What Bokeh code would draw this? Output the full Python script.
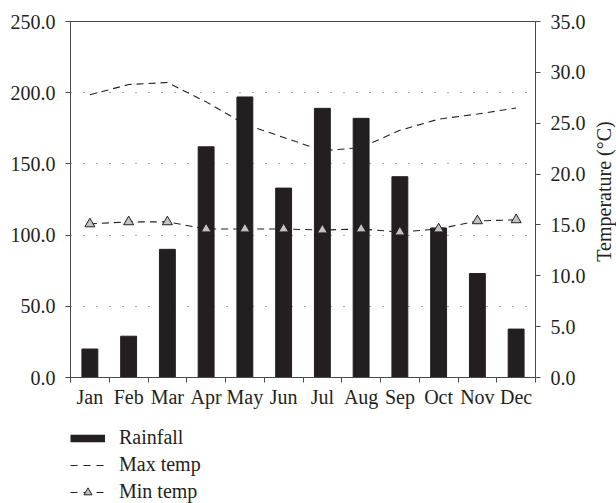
import math
from bokeh.plotting import figure
from bokeh.layouts import column, row
from bokeh.models import (Range1d, LinearAxis, FixedTicker, NumeralTickFormatter,
                          Legend, LegendItem, Label)
from bokeh.embed import file_html
from bokeh.resources import INLINE

months = ["Jan", "Feb", "Mar", "Apr", "May", "Jun", "Jul", "Aug", "Sep", "Oct", "Nov", "Dec"]
rainfall = [20, 29, 90, 162, 197, 133, 189, 182, 141, 105, 73, 34]
max_temp = [27.8, 28.8, 29.0, 27.1, 24.9, 23.6, 22.3, 22.6, 24.3, 25.4, 25.9, 26.5]
min_temp = [15.1, 15.3, 15.3, 14.6, 14.6, 14.6, 14.5, 14.6, 14.3, 14.6, 15.4, 15.5]
rain_ticks = [0, 50, 100, 150, 200, 250]
temp_ticks = [0, 5, 10, 15, 20, 25, 30, 35]

DARK = "#231f20"
AXIS = "#4a4a4a"
TRI = "#c2c2c2"
FONT = "Liberation Serif"
FS = "20px"

xc = [i + 0.5 for i in range(len(months))]
bounds = list(range(len(months) + 1))

p = figure(width=590, height=415, x_range=Range1d(0, len(months)), y_range=Range1d(0, 250),
           output_backend="svg", toolbar_location=None,
           min_border_left=70, min_border_right=55, min_border_top=21, min_border_bottom=38)
p.extra_y_ranges = {"temp": Range1d(0, 35)}
p.outline_line_color = AXIS
p.background_fill_color = "white"
p.border_fill_color = "white"

def style_axis(ax):
    ax.axis_line_color = AXIS
    ax.major_tick_line_color = AXIS
    ax.minor_tick_line_color = None
    ax.major_tick_out = 5
    ax.major_tick_in = 0
    ax.major_label_text_font = FONT
    ax.major_label_text_font_size = FS
    ax.major_label_text_color = DARK

# left axis (rainfall)
ly = p.yaxis[0]
ly.ticker = FixedTicker(ticks=rain_ticks)
ly.formatter = NumeralTickFormatter(format="0.0")
style_axis(ly)
ly.major_label_standoff = 10

# right axis (temperature)
ry = LinearAxis(y_range_name="temp", ticker=FixedTicker(ticks=temp_ticks),
                formatter=NumeralTickFormatter(format="0.0"))
style_axis(ry)
ry.major_label_standoff = 10
p.add_layout(ry, "right")

# bottom axis: ticks at month boundaries (no labels)
bx = p.xaxis[0]
bx.ticker = FixedTicker(ticks=bounds)
style_axis(bx)
bx.major_label_overrides = {b: "" for b in bounds}
bx.major_label_standoff = 0

# bottom labels at month centres
lx = LinearAxis(ticker=FixedTicker(ticks=xc),
                major_label_overrides={x: m for x, m in zip(xc, months)})
style_axis(lx)
lx.axis_line_color = None
lx.major_tick_line_color = None
lx.major_tick_out = 0
lx.major_label_standoff = 3
p.add_layout(lx, "below")

p.xgrid.visible = False
p.ygrid.ticker = FixedTicker(ticks=rain_ticks)
p.ygrid.grid_line_color = "#555555"
p.ygrid.grid_line_dash = "1 12"
p.ygrid.grid_line_width = 1

p.vbar(x=xc, top=rainfall, width=0.41, fill_color=DARK, line_color=DARK)
p.line(xc, max_temp, y_range_name="temp", line_color=DARK, line_width=1.1, line_dash="7 5")
p.line(xc, min_temp, y_range_name="temp", line_color=DARK, line_width=1.1, line_dash="7 5")
p.scatter(xc, min_temp, y_range_name="temp", marker="triangle", size=10,
          fill_color=TRI, line_color=DARK, line_width=1)

# right-hand axis title strip
pt = figure(width=26, height=415, x_range=Range1d(0, 1), y_range=Range1d(0, 1),
            output_backend="svg", toolbar_location=None,
            x_axis_location=None, y_axis_location=None,
            min_border_left=0, min_border_right=0, min_border_top=0, min_border_bottom=0)
pt.outline_line_color = None
pt.grid.visible = False
pt.background_fill_color = "white"
pt.border_fill_color = "white"
pt.add_layout(Label(x=13, y=186, x_units="screen", y_units="screen",
                    text="Temperature (°C)", angle=math.pi / 2,
                    text_align="center", text_baseline="middle",
                    text_font=FONT, text_font_size="20px", text_color=DARK))

# legend panel below the chart
pl = figure(width=616, height=88, x_range=Range1d(0, 1), y_range=Range1d(0, 1),
            output_backend="svg", toolbar_location=None,
            x_axis_location=None, y_axis_location=None,
            min_border_left=70, min_border_right=0, min_border_top=0, min_border_bottom=0)
pl.outline_line_color = None
pl.grid.visible = False
pl.background_fill_color = "white"
pl.border_fill_color = "white"

k_rain = pl.line(xc, rainfall, line_color=DARK, line_width=7.5, visible=False)
k_max = pl.line(xc, max_temp, line_color=DARK, line_width=1.1, line_dash="7 6", visible=False)
k_min_l = pl.line(xc, min_temp, line_color=DARK, line_width=1.1, line_dash="7 6", visible=False)
k_min_p = pl.scatter(xc, min_temp, marker="triangle", fill_color=TRI, line_color=DARK,
                     line_width=1, visible=False)

legend = Legend(items=[
    LegendItem(label="Rainfall", renderers=[k_rain]),
    LegendItem(label="Max temp", renderers=[k_max]),
    LegendItem(label="Min temp", renderers=[k_min_l, k_min_p]),
], location="bottom_left", orientation="vertical", glyph_width=35, glyph_height=20,
   label_standoff=14, spacing=4, padding=0, margin=0,
   border_line_color=None, background_fill_alpha=0, inactive_fill_alpha=0,
   label_text_font=FONT, label_text_font_size=FS, label_text_color=DARK)
pl.add_layout(legend)

open("out.html", "w").write(file_html(column(row(p, pt, spacing=0), pl, spacing=0), INLINE))
